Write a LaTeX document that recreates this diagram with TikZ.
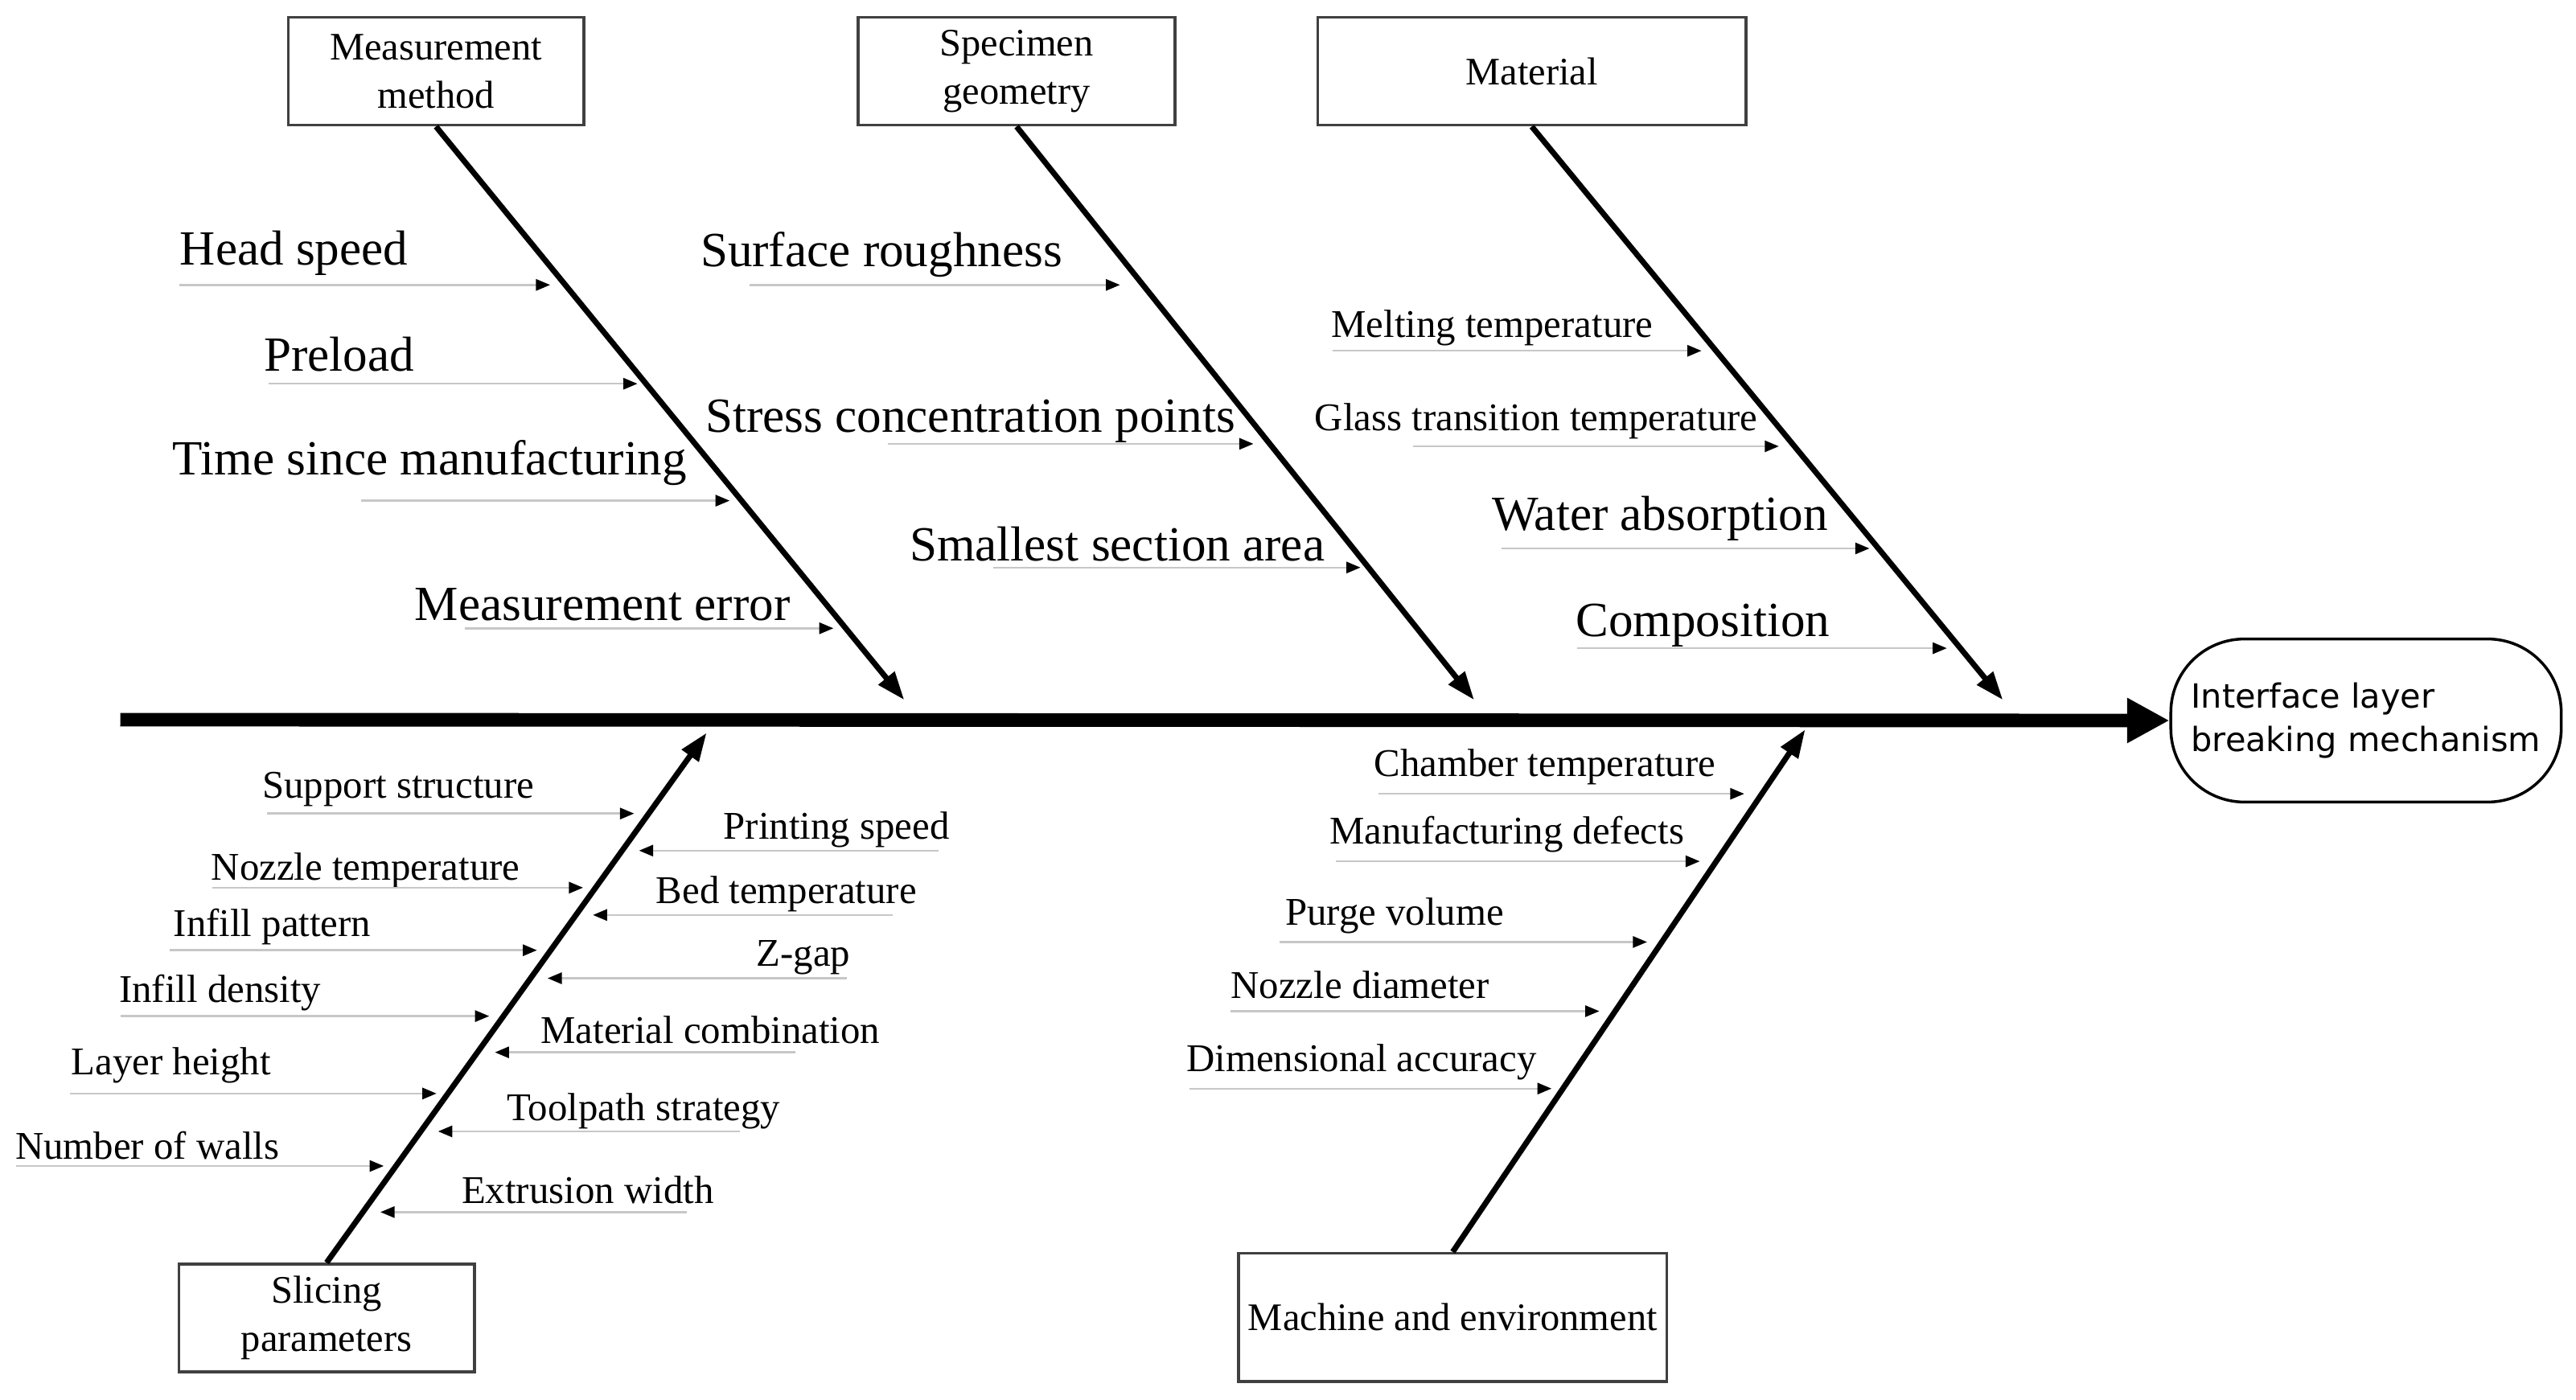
\documentclass[tikz,border=0pt]{standalone}
\usepackage{fontspec}
\setmainfont{Liberation Serif}
\newfontfamily\effectfont{DejaVu Sans}
\usetikzlibrary{arrows.meta}

\begin{document}
\begin{tikzpicture}[x=0.020493cm, y=-0.020493cm]
    \tikzstyle{box}=[draw=black!75, line width=1pt, fill=white, align=center, inner sep=0pt, font=\fontsize{13.8}{17.2}\selectfont]
    \tikzstyle{effect}=[draw, line width=1pt, rounded corners=26pt, align=left, inner sep=0pt, minimum width=4.857cm, minimum height=2.029cm, font=\effectfont\fontsize{11.8}{15.2}\selectfont]
    \tikzstyle{spine}=[line width=4.8pt, -{Triangle[length=15pt, width=15pt]}]
    \tikzstyle{bone}=[line width=2pt, -{Triangle[length=10pt, width=7pt]}]
    \tikzstyle{cause}=[draw=black!22, line width=0.7pt, -{Triangle[color=black, length=5pt, width=4pt]}]
    \tikzstyle{big label}=[inner sep=0pt, anchor=west, text height=12pt, text depth=3.8pt, font=\fontsize{17.4}{20}\selectfont]
    \tikzstyle{label}=[inner sep=0pt, anchor=west, text height=9.6pt, text depth=3pt, font=\fontsize{13.9}{16}\selectfont]
    \useasboundingbox (0, 0) rectangle (1564, 850);

    % categories and effect
    \node [style=box, minimum width=3.678cm, minimum height=1.34cm] (0) at (264.7, 43.3) {Measurement\\method};
    \node [style=box, minimum width=3.943cm, minimum height=1.34cm] (1) at (617.2, 43.3) {Specimen\\geometry};
    \node [style=box, minimum width=5.328cm, minimum height=1.34cm] (2) at (930, 43.3) {Material};
    \node [style=box, minimum width=3.678cm, minimum height=1.342cm] (3) at (198.3, 800.3) {Slicing\\parameters};
    \node [style=box, minimum width=5.328cm, minimum height=1.598cm] (4) at (882, 800) {Machine and environment};
    \node [style=effect] (5) at (1436.5, 437.5) {Interface layer\\breaking mechanism};

    \coordinate (6) at (549, 425);
    \coordinate (7) at (895, 425);
    \coordinate (8) at (1216, 425);
    \coordinate (9) at (429, 445);
    \coordinate (10) at (1096, 443);
    \coordinate (11) at (73, 437);

    % measurement method
    \node [style=big label] (12) at (109, 154) {Head speed};
    \coordinate (13) at (109, 173);
    \coordinate (14) at (334, 173);
    \node [style=big label] (15) at (160, 218.5) {Preload};
    \coordinate (16) at (163, 233);
    \coordinate (17) at (387, 233);
    \node [style=big label] (18) at (104.5, 281.5) {Time since manufacturing};
    \coordinate (19) at (219, 304);
    \coordinate (20) at (443, 304);
    \node [style=big label] (21) at (251.5, 369.7) {Measurement error};
    \coordinate (22) at (282, 381.5);
    \coordinate (23) at (506, 381.5);

    % specimen geometry
    \node [style=big label] (24) at (425, 155) {Surface roughness};
    \coordinate (25) at (455, 173);
    \coordinate (26) at (680, 173);
    \node [style=big label] (27) at (428, 255.5) {Stress concentration points};
    \coordinate (28) at (539, 269.5);
    \coordinate (29) at (761, 269.5);
    \node [style=big label] (30) at (552, 333.4) {Smallest section area};
    \coordinate (31) at (603, 344.6);
    \coordinate (32) at (826, 344.6);

    % material
    \node [style=label] (39) at (808, 199) {Melting temperature};
    \coordinate (40) at (809, 213);
    \coordinate (41) at (1033, 213);
    \node [style=label] (42) at (798, 256) {Glass transition temperature};
    \coordinate (43) at (858, 271);
    \coordinate (44) at (1080, 271);
    \node [style=big label] (33) at (905.5, 315) {Water absorption};
    \coordinate (34) at (911.5, 333);
    \coordinate (35) at (1135, 333);
    \node [style=big label] (36) at (956.4, 379.6) {Composition};
    \coordinate (37) at (957.5, 393.6);
    \coordinate (38) at (1182, 393.6);

    % slicing parameters, left
    \node [style=label] (45) at (159, 479) {Support structure};
    \coordinate (46) at (162, 494);
    \coordinate (47) at (385, 494);
    \node [style=label] (48) at (128, 529) {Nozzle temperature};
    \coordinate (49) at (129, 539);
    \coordinate (50) at (354, 539);
    \node [style=label] (51) at (105, 563) {Infill pattern};
    \coordinate (52) at (103, 577);
    \coordinate (53) at (326, 577);
    \node [style=label] (54) at (72, 603) {Infill density};
    \coordinate (55) at (73, 617);
    \coordinate (56) at (297, 617);
    \node [style=label] (57) at (43, 647) {Layer height};
    \coordinate (58) at (42.5, 664);
    \coordinate (59) at (265, 664);
    \node [style=label] (60) at (9, 698) {Number of walls};
    \coordinate (61) at (10, 708);
    \coordinate (62) at (233, 708);

    % slicing parameters, right
    \node [style=label] (63) at (439, 504) {Printing speed};
    \coordinate (64) at (570, 516.5);
    \coordinate (65) at (388, 516.5);
    \node [style=label] (66) at (398, 543) {Bed temperature};
    \coordinate (67) at (542, 555.6);
    \coordinate (68) at (360, 555.6);
    \node [style=label] (69) at (459, 581) {Z-gap};
    \coordinate (70) at (514, 594);
    \coordinate (71) at (332.5, 594);
    \node [style=label] (72) at (328, 628) {Material combination};
    \coordinate (73) at (483, 639);
    \coordinate (74) at (300.5, 639);
    \node [style=label] (75) at (307.5, 675) {Toolpath strategy};
    \coordinate (76) at (449, 687);
    \coordinate (77) at (266, 687);
    \node [style=label] (78) at (280, 725) {Extrusion width};
    \coordinate (79) at (417, 736);
    \coordinate (80) at (231, 736);

    % machine and environment
    \node [style=label] (81) at (834, 466) {Chamber temperature};
    \coordinate (82) at (837, 482);
    \coordinate (83) at (1059, 482);
    \node [style=label] (84) at (807, 507) {Manufacturing defects};
    \coordinate (85) at (811, 523);
    \coordinate (86) at (1032, 523);
    \node [style=label] (87) at (780, 556) {Purge volume};
    \coordinate (88) at (777, 572);
    \coordinate (89) at (1000, 572);
    \node [style=label] (90) at (747, 600.5) {Nozzle diameter};
    \coordinate (91) at (747, 614);
    \coordinate (92) at (971, 614);
    \node [style=label] (93) at (720, 645) {Dimensional accuracy};
    \coordinate (94) at (722, 661);
    \coordinate (95) at (942, 661);

    \draw [style=spine] (11) to (5.west);
    \draw [style=bone] (0.south) to (6);
    \draw [style=bone] (1.south) to (7);
    \draw [style=bone] (2.south) to (8);
    \draw [style=bone] (3.north) to (9);
    \draw [style=bone] (4.north) to (10);

    \draw [style=cause] (13) to (14);
    \draw [style=cause] (16) to (17);
    \draw [style=cause] (19) to (20);
    \draw [style=cause] (22) to (23);
    \draw [style=cause] (25) to (26);
    \draw [style=cause] (28) to (29);
    \draw [style=cause] (31) to (32);
    \draw [style=cause] (34) to (35);
    \draw [style=cause] (37) to (38);
    \draw [style=cause] (40) to (41);
    \draw [style=cause] (43) to (44);
    \draw [style=cause] (46) to (47);
    \draw [style=cause] (49) to (50);
    \draw [style=cause] (52) to (53);
    \draw [style=cause] (55) to (56);
    \draw [style=cause] (58) to (59);
    \draw [style=cause] (61) to (62);
    \draw [style=cause] (64) to (65);
    \draw [style=cause] (67) to (68);
    \draw [style=cause] (70) to (71);
    \draw [style=cause] (73) to (74);
    \draw [style=cause] (76) to (77);
    \draw [style=cause] (79) to (80);
    \draw [style=cause] (82) to (83);
    \draw [style=cause] (85) to (86);
    \draw [style=cause] (88) to (89);
    \draw [style=cause] (91) to (92);
    \draw [style=cause] (94) to (95);
\end{tikzpicture}
\end{document}
